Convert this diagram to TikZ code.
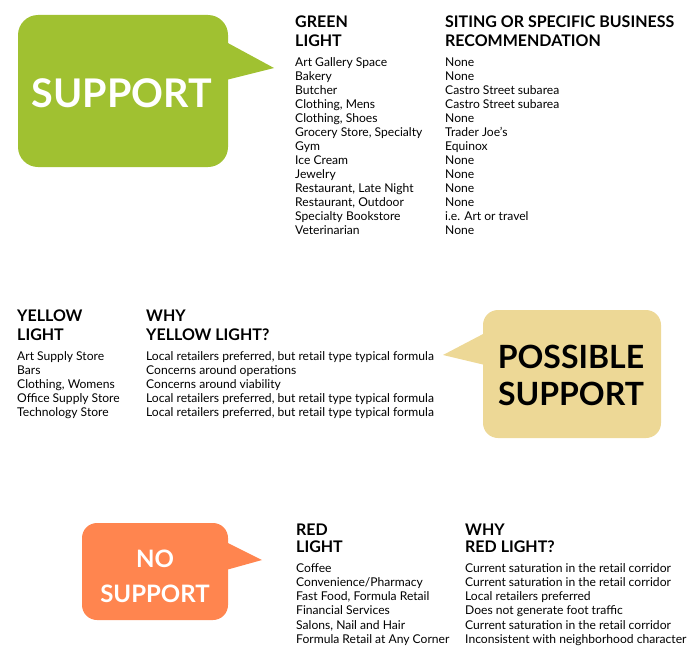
\documentclass[tikz,border=0pt]{standalone}
\usepackage{fontspec}
\setmainfont{Lato}
\definecolor{gogreen}{HTML}{A0C131}
\definecolor{maybetan}{HTML}{EDD896}
\definecolor{stoporange}{HTML}{FF854F}
\begin{document}
\begin{tikzpicture}[x=1pt,y=-1pt,
  head/.style={anchor=base west,inner sep=0pt,font=\fontsize{16}{18}\selectfont\bfseries},
  body/.style={anchor=base west,inner sep=0pt,font=\fontsize{12.1}{14}\selectfont},
  shout/.style={anchor=base,inner sep=0pt,font=\bfseries}]
\useasboundingbox (0,0) rectangle (700,661);

% green bubble
\fill[gogreen,rounded corners=20pt] (18,15) rectangle (228,167);
\fill[gogreen] (226,42)--(274,68)--(226,80)--cycle;
\node[shout,white,font=\fontsize{39.5}{40}\selectfont\bfseries] (sup) at (122,107){SUPPORT};

\node[head] (gh1) at (295,27.3){GREEN};
\node[head] (gh2) at (295,46){LIGHT};
\node[head] (gw1) at (445,27.3){SITING OR SPECIFIC BUSINESS};
\node[head] (gw2) at (445,46){RECOMMENDATION};
\foreach \a/\b [count=\i] in {Art Gallery Space/None, Bakery/None, Butcher/Castro Street subarea,
  {Clothing, Mens}/Castro Street subarea, {Clothing, Shoes}/None,
  {Grocery Store, Specialty}/Trader Joe’s, Gym/Equinox, Ice Cream/None, Jewelry/None,
  {Restaurant, Late Night}/None, {Restaurant, Outdoor}/None,
  Specialty Bookstore/i.e. Art or travel, Veterinarian/None}
{
   \node[body] (g\i) at (295,52.5+14*\i){\a};
   \node[body] (gr\i) at (445,52.5+14*\i){\b};
}

% yellow bubble
\fill[maybetan,rounded corners=15pt] (483,310) rectangle (661,438);
\fill[maybetan] (485,333)--(443,355)--(485,365)--cycle;
\node[shout,font=\fontsize{32}{32}\selectfont\bfseries] (pos1) at (571,368){POSSIBLE};
\node[shout,font=\fontsize{32}{32}\selectfont\bfseries] (pos2) at (571,405){SUPPORT};

\node[head] (yh1) at (17,321.7){YELLOW};
\node[head] (yh2) at (17,340){LIGHT};
\node[head] (yw1) at (146,321.7){WHY};
\node[head] (yw2) at (146,340){YELLOW LIGHT?};
\foreach \a/\b [count=\i] in {Art Supply Store/{Local retailers preferred, but retail type typical formula},
  Bars/Concerns around operations, {Clothing, Womens}/Concerns around viability,
  Office Supply Store/{Local retailers preferred, but retail type typical formula},
  Technology Store/{Local retailers preferred, but retail type typical formula}}
{
   \node[body] (y\i) at (17,346+14*\i){\a};
   \node[body] (yr\i) at (146,346+14*\i){\b};
}

% orange bubble
\fill[stoporange,rounded corners=15pt] (82,523) rectangle (228,620);
\fill[stoporange] (226,542)--(262,560)--(226,570)--cycle;
\node[shout,white,font=\fontsize{24}{24}\selectfont\bfseries] (no1) at (155,567){NO};
\node[shout,white,font=\fontsize{24}{24}\selectfont\bfseries] (no2) at (155,602){SUPPORT};

\node[head] (rh1) at (296,535.7){RED};
\node[head] (rh2) at (296,552.7){LIGHT};
\node[head] (rw1) at (465,535.7){WHY};
\node[head] (rw2) at (465,552.7){RED LIGHT?};
\foreach \a/\b [count=\i] in {Coffee/Current saturation in the retail corridor,
  {Convenience/Pharmacy}/Current saturation in the retail corridor,
  {Fast Food, Formula Retail}/Local retailers preferred,
  Financial Services/Does not generate foot traffic,
  {Salons, Nail and Hair}/Current saturation in the retail corridor,
  Formula Retail at Any Corner/Inconsistent with neighborhood character}
{
   \node[body] (r\i) at (296,558.1+14.2*\i){\a};
   \node[body] (rr\i) at (465,558.1+14.2*\i){\b};
}
\end{tikzpicture}
\end{document}
